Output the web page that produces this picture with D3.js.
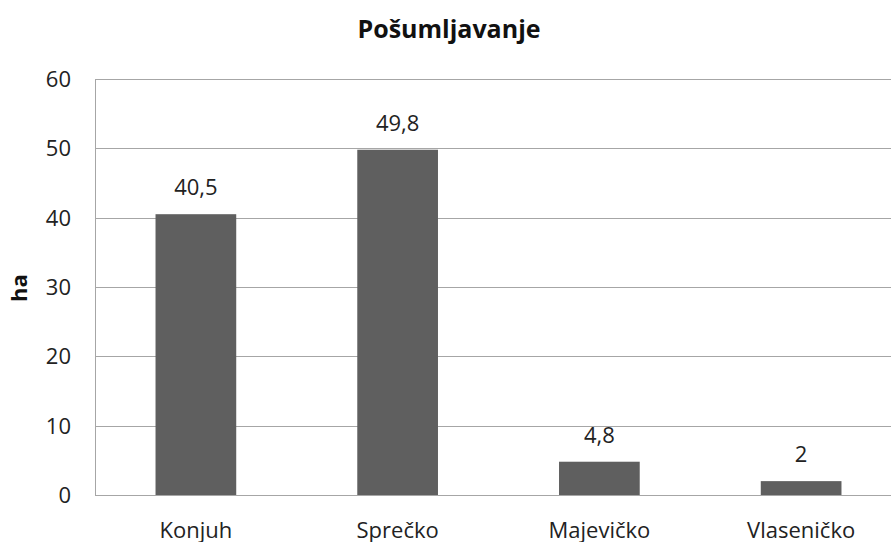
<!DOCTYPE html>
<html>
<head>
<meta charset="utf-8">
<script src="https://cdn.jsdelivr.net/npm/d3@7"></script>
<style>
  body { margin: 0; background: #fff; }
  svg { display: block; font-family: "Open Sans", sans-serif; }
</style>
</head>
<body>
<svg id="chart" width="891" height="542"></svg>
<script>
const categories = ["Konjuh", "Sprečko", "Majevičko", "Vlaseničko"];
const values = [40.5, 49.8, 4.8, 2];
const valueLabels = ["40,5", "49,8", "4,8", "2"];
const yTicks = [0, 10, 20, 30, 40, 50, 60];

const svg = d3.select("#chart");
const plotLeft = 95, plotRight = 902, plotTop = 79, plotBottom = 495;

const x = d3.scaleBand()
  .domain(categories)
  .range([plotLeft, plotRight])
  .paddingInner(0.6)
  .paddingOuter(0.3);

const y = d3.scaleLinear().domain([0, 60]).range([plotBottom, plotTop]);

// gridlines
svg.append("g")
  .selectAll("line")
  .data(yTicks)
  .join("line")
  .attr("x1", plotLeft)
  .attr("x2", 891)
  .attr("y1", d => Math.round(y(d)) + 0.5)
  .attr("y2", d => Math.round(y(d)) + 0.5)
  .attr("stroke", "#a6a6a6")
  .attr("stroke-width", 1);

// y axis line
svg.append("line")
  .attr("x1", plotLeft + 0.5).attr("x2", plotLeft + 0.5)
  .attr("y1", plotTop).attr("y2", plotBottom)
  .attr("stroke", "#a6a6a6");

// tick labels
svg.append("g")
  .selectAll("text")
  .data(yTicks)
  .join("text")
  .attr("x", 71)
  .attr("y", d => y(d))
  .attr("dy", "0.36em")
  .attr("text-anchor", "end")
  .attr("font-size", 22)
  .attr("fill", "#222")
  .text(d => d);

// bars
svg.append("g")
  .selectAll("rect")
  .data(values)
  .join("rect")
  .attr("x", (d, i) => x(categories[i]))
  .attr("y", d => y(d))
  .attr("width", x.bandwidth())
  .attr("height", d => y(0) - y(d))
  .attr("fill", "#5f5f5f");

// value labels
svg.append("g")
  .selectAll("text")
  .data(values)
  .join("text")
  .attr("x", (d, i) => x(categories[i]) + x.bandwidth() / 2)
  .attr("y", d => y(d) - 19)
  .attr("text-anchor", "middle")
  .attr("font-size", 22)
  .attr("fill", "#222")
  .text((d, i) => valueLabels[i]);

// category labels
svg.append("g")
  .selectAll("text")
  .data(categories)
  .join("text")
  .attr("x", d => x(d) + x.bandwidth() / 2)
  .attr("y", 538)
  .attr("text-anchor", "middle")
  .attr("font-size", 22)
  .attr("fill", "#222")
  .text(d => d);

// title
svg.append("text")
  .attr("x", 449)
  .attr("y", 38)
  .attr("text-anchor", "middle")
  .attr("font-size", 25)
  .attr("font-weight", "bold")
  .attr("fill", "#111")
  .text("Pošumljavanje");

// y axis title
svg.append("text")
  .attr("transform", "translate(27, 288) rotate(-90)")
  .attr("text-anchor", "middle")
  .attr("font-size", 22)
  .attr("font-weight", "bold")
  .attr("fill", "#111")
  .text("ha");
</script>
</body>
</html>
